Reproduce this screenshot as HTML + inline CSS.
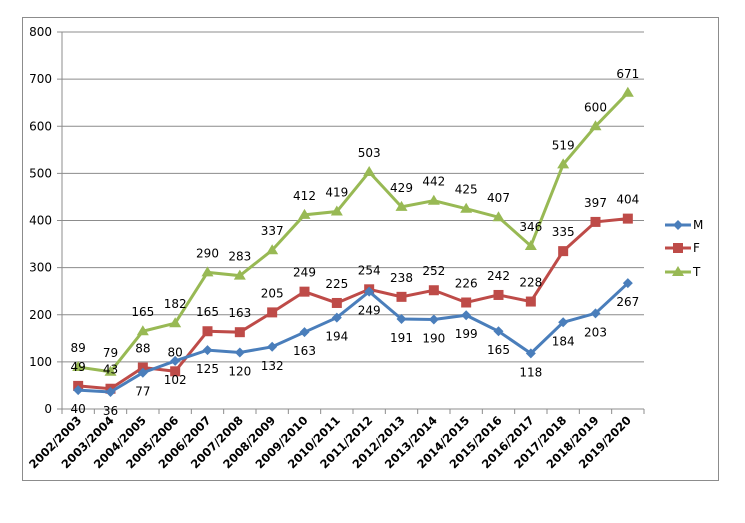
<!DOCTYPE html><html><head><style>body{margin:0;background:#fff}svg{display:block;font-family:"DejaVu Sans","Liberation Sans",sans-serif}</style></head><body>
<svg id="s" width="745" height="523" xmlns="http://www.w3.org/2000/svg"></svg>
<script>
const s=document.getElementById('s');let h='';
h+='<rect x="22.5" y="17.5" width="696" height="463" fill="#fff" stroke="#8c8c8c"/>';
const x0=62,x1=644,y0=409,k=377/800,n=18,cw=(x1-x0)/n;
const Y=v=>y0-v*k,X=i=>x0+cw*(i+.5);
for(let v=0;v<=800;v+=100){const y=Y(v);h+=`<line x1="${v?x0:x0-5}" x2="${x1}" y1="${y}" y2="${y}" stroke="#8c8c8c"/>`;h+=`<line x1="${x0-5}" x2="${x0}" y1="${y}" y2="${y}" stroke="#8c8c8c"/><text x="${x0-10}" y="${y+4}" font-size="12" text-anchor="end">${v}</text>`;}
h+=`<line x1="${x0}" x2="${x0}" y1="${Y(800)}" y2="${y0}" stroke="#8c8c8c"/>`;
for(let i=0;i<=n;i++){const x=x0+cw*i;h+=`<line x1="${x}" x2="${x}" y1="${y0}" y2="${y0+5}" stroke="#8c8c8c"/>`;}
for(let i=0;i<n;i++){const a=2002+i;const x=X(i)+4,y=y0+12;h+=`<text transform="translate(${x},${y}) rotate(-45)" font-size="11.5" font-weight="bold" text-anchor="end">${a}/${a+1}</text>`;}
const M=[40,36,77,102,125,120,132,163,194,249,191,190,199,165,118,184,203,267],F=[49,43,88,80,165,163,205,249,225,254,238,252,226,242,228,335,397,404],T=[89,79,165,182,290,283,337,412,419,503,429,442,425,407,346,519,600,671];
function ser(d,c,mk,off){h+=`<polyline fill="none" stroke="${c}" stroke-width="3" points="${d.map((v,i)=>X(i)+','+Y(v)).join(' ')}"/>`;
d.forEach((v,i)=>{const x=X(i),y=Y(v);h+=mk(x,y);h+=`<text x="${x}" y="${y+off+4}" font-size="12" text-anchor="middle">${v}</text>`;});}
const dia=(x,y)=>`<polygon points="${x},${y-5} ${x+5},${y} ${x},${y+5} ${x-5},${y}" fill="#4a7ebb"/>`;
const sq=(x,y)=>`<rect x="${x-5}" y="${y-5}" width="10" height="10" fill="#be4b48"/>`;
const tri=(x,y)=>`<polygon points="${x},${y-6} ${x+6},${y+4} ${x-6},${y+4}" fill="#98b954"/>`;
ser(T,'#98b954',tri,-19);ser(F,'#be4b48',sq,-19);ser(M,'#4a7ebb',dia,19);
[['M','#4a7ebb',dia,225],['F','#be4b48',sq,248],['T','#98b954',tri,272]].forEach(([t,c,m,y])=>{h+=`<line x1="665" x2="691" y1="${y}" y2="${y}" stroke="${c}" stroke-width="3"/>`+m(678,y)+`<text x="693" y="${y+4}" font-size="12">${t}</text>`;});
s.innerHTML=h;
</script></body></html>
